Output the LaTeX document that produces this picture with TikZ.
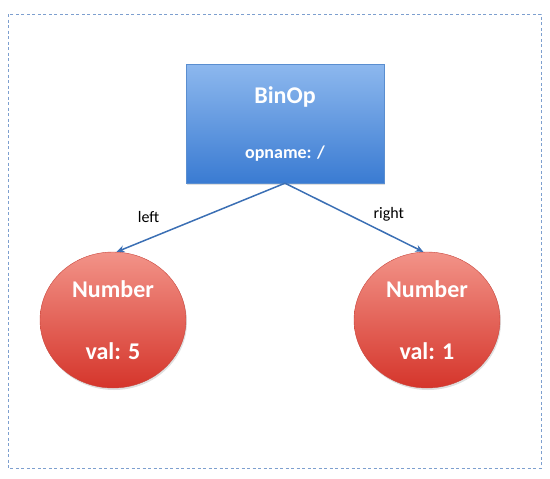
\documentclass[tikz,border=0pt]{standalone}
\usepackage{fontspec}
\setmainfont{Carlito}
\usepackage{xcolor}
\usepackage{tikz}
\usetikzlibrary{arrows.meta,shapes.geometric,shadows}

\definecolor{boxtop}{HTML}{8DB8EE}
\definecolor{boxbot}{HTML}{3A7BD2}
\definecolor{boxline}{HTML}{5A8ED0}
\definecolor{numtop}{HTML}{F29388}
\definecolor{numbot}{HTML}{D5352B}
\definecolor{numline}{HTML}{C9463C}
\definecolor{edgeblue}{HTML}{3B6FB4}
\definecolor{frameblue}{HTML}{7D9FCF}

\begin{document}
\begin{tikzpicture}[x=1pt,y=-1pt,
  op/.style={draw=boxline,top color=boxtop,bottom color=boxbot,align=center,
    text=white,font=\bfseries\fontsize{24}{29}\selectfont,
    minimum width=198pt,minimum height=119pt,inner sep=0pt,
    drop shadow={opacity=.25,shadow xshift=1pt,shadow yshift=-2pt}},
  num/.style={ellipse,draw=numline,top color=numtop,bottom color=numbot,align=center,
    text=white,font=\bfseries\fontsize{24}{29}\selectfont,
    minimum width=146pt,minimum height=136pt,inner sep=0pt,
    drop shadow={opacity=.25,shadow xshift=1pt,shadow yshift=-2pt}},
  ed/.style={-{Stealth[length=8pt,width=7pt]},line width=1.5pt,draw=edgeblue},
  lab/.style={font=\fontsize{16}{19}\selectfont,text=black}]
\useasboundingbox (0,0) rectangle (550,479);
\draw[frameblue,line width=0.9pt,dash pattern=on 3pt off 2.5pt] (8,14) rectangle (541,468);
\node[op] (B) at (285,123.5) {BinOp\\[26pt]{\fontsize{18}{22}\selectfont opname: /}};
\node[num] (L) at (113,320) {Number\\[33pt]val: 5};
\node[num] (R) at (427,320) {Number\\[33pt]val: 1};
\draw[ed] (B.south) -- (L.87) node[lab,pos=.81,above=12pt] {left};
\draw[ed] (B.south) -- (R.93) node[lab,pos=.75,above=9pt] {right};
\end{tikzpicture}
\end{document}
